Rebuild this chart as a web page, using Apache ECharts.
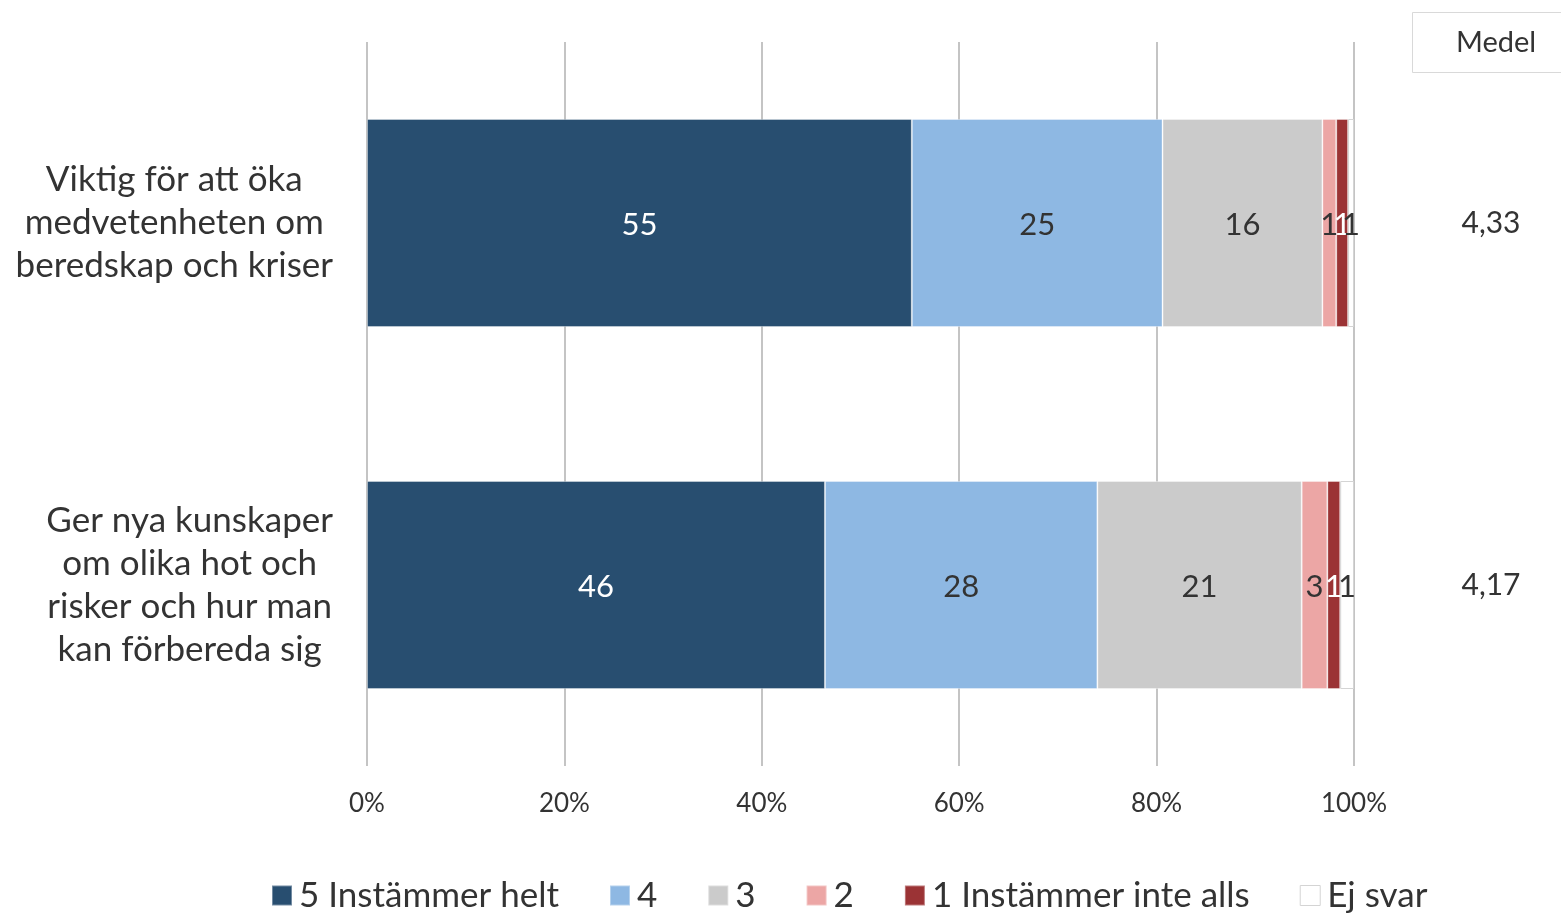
<!DOCTYPE html>
<html>
<head>
<meta charset="utf-8">
<script src="https://cdn.jsdelivr.net/npm/echarts@6/dist/echarts.min.js"></script>
<style>
  html, body { margin: 0; padding: 0; background: #fff; }
  #chart { width: 1561px; height: 914px; }
</style>
</head>
<body>
<div id="chart"></div>
<script>
// Statements (top to bottom)
const categories = [
  'Viktig för att öka\nmedvetenheten om\nberedskap och kriser',
  'Ger nya kunskaper\nom olika hot och\nrisker och hur man\nkan förbereda sig'
];

// Share of answers per response option, percent
const seriesNames = ['5 Instämmer helt', '4', '3', '2', '1 Instämmer inte alls', 'Ej svar'];
const s5 = [55.2, 46.4];
const s4 = [25.4, 27.6];
const s3 = [16.2, 20.7];
const s2 = [1.4, 2.6];
const s1 = [1.2, 1.3];
const ejSvar = [0.6, 1.4];

// Mean score per statement
const medel = ['4,33', '4,17'];

const xTicks = [0, 20, 40, 60, 80, 100];

const FONT = 'Lato, "Open Sans", sans-serif';
const colors = ['#284e70', '#8eb8e3', '#cbcbcb', '#eca6a5', '#9b3335', '#ffffff'];
const labelColors = ['#ffffff', '#333333', '#333333', '#333333', '#ffffff', '#333333'];
const values = [s5, s4, s3, s2, s1, ejSvar];

const chart = echarts.init(document.getElementById('chart'), null, { renderer: 'canvas' });

const series = seriesNames.map((name, i) => ({
  name: name,
  type: 'bar',
  stack: 'total',
  barWidth: 208,
  data: values[i],
  itemStyle: {
    color: colors[i],
    borderColor: i === 5 ? '#d4d4d4' : 'rgba(255,255,255,0.35)',
    borderWidth: 1
  },
  label: {
    show: true,
    position: 'inside',
    fontFamily: FONT,
    fontSize: 31,
    color: labelColors[i],
    offset: [0, 2],
    formatter: p => String(Math.round(p.value))
  },
  emphasis: { disabled: true },
  animation: false
}));

chart.setOption({
  animation: false,
  backgroundColor: '#ffffff',
  textStyle: { fontFamily: FONT },
  title: {
    text: 'Medel',
    left: 1412,
    top: 12,
    padding: [16, 60, 16, 44],
    borderColor: '#d9d9d9',
    borderWidth: 1,
    textStyle: { fontFamily: FONT, fontSize: 29, fontWeight: 'normal', color: '#333333' }
  },
  grid: { left: 367, right: 207, top: 42, bottom: 148, containLabel: false },
  legend: {
    bottom: -4,
    left: 266,
    itemWidth: 20,
    itemHeight: 20,
    itemGap: 50,
    icon: 'rect',
    selectedMode: false,
    textStyle: { fontFamily: FONT, fontSize: 35, color: '#333333', padding: [0, 0, 0, 2] },
    data: seriesNames.map((n, i) => ({
      name: n,
      itemStyle: i === 5 ? { color: '#ffffff', borderColor: '#d4d4d4', borderWidth: 1 } : { color: colors[i] }
    }))
  },
  xAxis: {
    type: 'value',
    min: 0,
    max: 100,
    interval: 20,
    axisLine: { show: false },
    axisTick: { show: false },
    splitLine: { show: true, lineStyle: { color: '#c4c4c4', width: 2 } },
    axisLabel: {
      fontFamily: FONT,
      fontSize: 26,
      color: '#333333',
      margin: 25,
      formatter: v => (xTicks.indexOf(v) >= 0 ? v + '%' : '')
    }
  },
  yAxis: [
    {
      type: 'category',
      inverse: true,
      data: categories,
      axisLine: { show: false },
      axisTick: { show: false },
      axisLabel: {
        margin: 34,
        align: 'right',
        formatter: v => v.split('\n').map(l => '{c|' + l + '}').join('\n'),
        rich: {
          c: { align: 'center', fontFamily: FONT, fontSize: 35, lineHeight: 43, color: '#333333' }
        }
      }
    },
    {
      type: 'category',
      inverse: true,
      position: 'right',
      data: medel,
      axisLine: { show: false },
      axisTick: { show: false },
      axisLabel: {
        margin: 137,
        align: 'center',
        fontFamily: FONT,
        fontSize: 30,
        color: '#333333'
      }
    }
  ],
  series: series
});
</script>
</body>
</html>
